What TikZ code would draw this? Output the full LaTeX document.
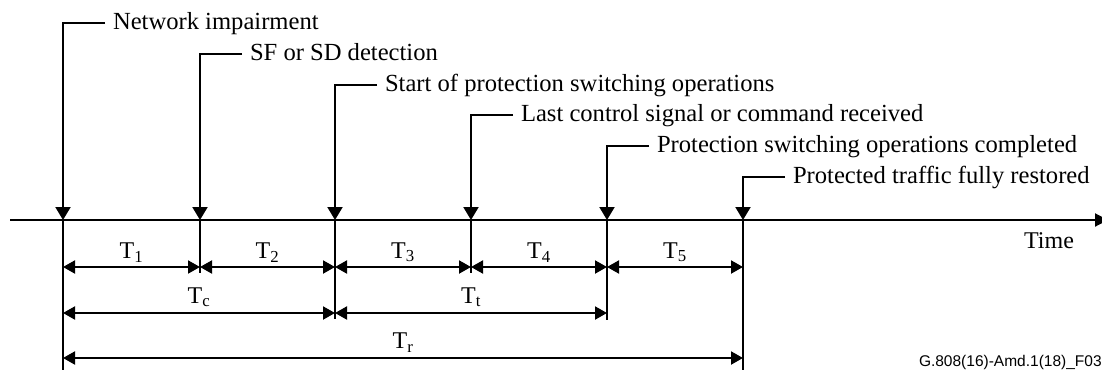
\documentclass[tikz,border=0pt]{standalone}
\usepackage{fontspec}
\setmainfont{Liberation Serif}
\newfontfamily\figsans{Liberation Sans}
\usetikzlibrary{arrows.meta}

\begin{document}
\begin{tikzpicture}[x=1pt,y=-1pt,line width=2pt,
	evt/.style={-{Triangle[length=13pt,width=15pt]}},
	dim/.style={{Triangle[length=12pt,width=13pt]}-{Triangle[length=12pt,width=13pt]}},
	evtlabel/.style={anchor=base west,inner sep=0pt,font=\fontsize{24.6}{27}\selectfont},
	tlabel/.style={inner sep=0pt,font=\fontsize{24}{26}\selectfont}]
	\useasboundingbox (0,0) rectangle (1102,370);
	\coordinate (t0) at (10,220);
	\coordinate (tend) at (1108,220);
	\draw[-{Triangle[length=13pt,width=13pt]}] (t0) -- (tend);
	\node[tlabel] (time) at (1049,241) {Time};
	\coordinate (e1) at (63,220);
	\coordinate (e2) at (200,220);
	\coordinate (e3) at (335,220);
	\coordinate (e4) at (471,220);
	\coordinate (e5) at (607,220);
	\coordinate (e6) at (743,220);
	\coordinate (s1) at (105,23);
	\coordinate (s2) at (242,54);
	\coordinate (s3) at (377,85);
	\coordinate (s4) at (513,115);
	\coordinate (s5) at (649,146);
	\coordinate (s6) at (785,177);
	\draw[evt] (s1) -| (e1);
	\draw[evt] (s2) -| (e2);
	\draw[evt] (s3) -| (e3);
	\draw[evt] (s4) -| (e4);
	\draw[evt] (s5) -| (e5);
	\draw[evt] (s6) -| (e6);
	\node[evtlabel] (impair) at ([shift={(7,6)}]s1) {Network impairment};
	\node[evtlabel] (detect) at ([shift={(7,6)}]s2) {SF or SD detection};
	\node[evtlabel] (start) at ([shift={(7,6)}]s3) {Start of protection switching operations};
	\node[evtlabel] (lastcmd) at ([shift={(7,6)}]s4) {Last control signal or command received};
	\node[evtlabel] (done) at ([shift={(7,6)}]s5) {Protection switching operations completed};
	\node[evtlabel] (restored) at ([shift={(7,6)}]s6) {Protected traffic fully restored};
	\draw (e1) -- ++(0,150);
	\draw (e2) -- ++(0,53);
	\draw (e3) -- ++(0,99);
	\draw (e4) -- ++(0,53);
	\draw (e5) -- ++(0,100);
	\draw (e6) -- ++(0,150);
	\coordinate (r1) at (0,267);
	\coordinate (r2) at (0,313);
	\coordinate (r3) at (0,358);
	\draw[dim] (e1 |- r1) -- node[tlabel,above=4pt] (t1) {T\textsubscript{1}} (e2 |- r1);
	\draw[dim] (e2 |- r1) -- node[tlabel,above=4pt] (t2) {T\textsubscript{2}} (e3 |- r1);
	\draw[dim] (e3 |- r1) -- node[tlabel,above=4pt] (t3) {T\textsubscript{3}} (e4 |- r1);
	\draw[dim] (e4 |- r1) -- node[tlabel,above=4pt] (t4) {T\textsubscript{4}} (e5 |- r1);
	\draw[dim] (e5 |- r1) -- node[tlabel,above=4pt] (t5) {T\textsubscript{5}} (e6 |- r1);
	\draw[dim] (e1 |- r2) -- node[tlabel,above=5pt] (tc) {T\textsubscript{c}} (e3 |- r2);
	\draw[dim] (e3 |- r2) -- node[tlabel,above=5pt] (tt) {T\textsubscript{t}} (e5 |- r2);
	\draw[dim] (e1 |- r3) -- node[tlabel,above=5pt] (tr) {T\textsubscript{r}} (e6 |- r3);
	\node[anchor=west,inner sep=0pt,font=\figsans\fontsize{15.5}{17}\selectfont] (figid) at (918,362) {G.808(16)-Amd.1(18)\_F03};
\end{tikzpicture}
\end{document}
